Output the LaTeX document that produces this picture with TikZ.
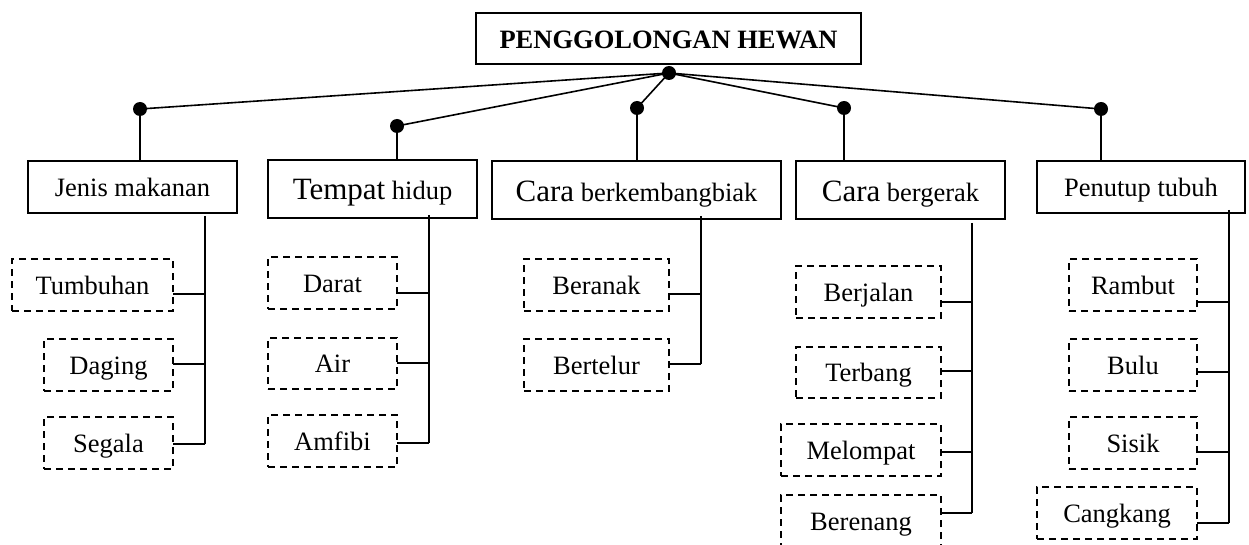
\documentclass[tikz,border=0pt]{standalone}
\usepackage{fontspec}
\setmainfont{Liberation Serif}
\begin{document}
\begin{tikzpicture}[x=1pt,y=-1pt,
  line width=1.6pt,
  base/.style={inner sep=0pt,outer sep=0pt,font=\fontsize{26.5}{30}\selectfont,text depth=0pt},
  mainbox/.style={base,draw,text height=20pt},
  bigbox/.style={base,draw,text height=22pt},
  subbox/.style={base,draw,dash pattern=on 7pt off 5pt,line width=1.4pt,text height=18pt},
  hubdot/.style={circle,fill=black,inner sep=0pt,minimum size=14pt},
  link/.style={line width=1.6pt}]
\useasboundingbox (0,0) rectangle (1249,545);
\newcommand{\bigw}[1]{{\fontsize{31}{34}\selectfont #1}}
% title
\node[mainbox,text height=21pt,minimum width=385pt,minimum height=51pt,font=\fontsize{26.5}{30}\selectfont\bfseries] (title) at (668.5,38.5) {PENGGOLONGAN HEWAN};
\node[hubdot] (hub) at (669,73) {};
% category boxes
\node[mainbox,minimum width=209pt,minimum height=52pt] (jm) at (132.5,187) {Jenis makanan};
\node[bigbox,minimum width=209pt,minimum height=58pt] (th) at (372.5,189) {\bigw{Tempat} hidup};
\node[bigbox,text height=23pt,minimum width=289pt,minimum height=58pt] (cb) at (636.5,190) {\bigw{Cara} berkembangbiak};
\node[bigbox,text height=23pt,minimum width=209pt,minimum height=58pt] (cg) at (900.5,190) {\bigw{Cara} bergerak};
\node[mainbox,minimum width=208pt,minimum height=52pt] (pt) at (1141,187) {Penutup tubuh};
% dots
\node[hubdot] (d1) at (140,109) {};
\node[hubdot] (d2) at (397,126) {};
\node[hubdot] (d3) at (637,108) {};
\node[hubdot] (d4) at (844,108) {};
\node[hubdot] (d5) at (1101,109) {};
\foreach \d in {d1,d2,d3,d4,d5}{\draw[link] (hub.center) -- (\d.center);}
\draw[link] (d1.center) -- (d1.center |- jm.north);
\draw[link] (d2.center) -- (d2.center |- th.north);
\draw[link] (d3.center) -- (d3.center |- cb.north);
\draw[link] (d4.center) -- (d4.center |- cg.north);
\draw[link] (d5.center) -- (d5.center |- pt.north);
% sub boxes
\node[subbox,minimum width=161pt,minimum height=52pt] (tum) at (92.5,285) {Tumbuhan};
\node[subbox,minimum width=129pt,minimum height=52pt] (dag) at (108.5,365) {Daging};
\node[subbox,minimum width=129pt,minimum height=52pt] (seg) at (108.5,443) {Segala};
\node[subbox,minimum width=129pt,minimum height=52pt] (dar) at (332.5,283) {Darat};
\node[subbox,minimum width=129pt,minimum height=51pt] (air) at (332.5,363.5) {Air};
\node[subbox,minimum width=129pt,minimum height=52pt] (amf) at (332.5,441) {Amfibi};
\node[subbox,minimum width=145pt,minimum height=52pt] (ber) at (596.5,285) {Beranak};
\node[subbox,minimum width=145pt,minimum height=52pt] (bet) at (596.5,365) {Bertelur};
\node[subbox,minimum width=145pt,minimum height=52pt] (bej) at (868.5,292) {Berjalan};
\node[subbox,minimum width=145pt,minimum height=51pt] (ter) at (868.5,372.5) {Terbang};
\node[subbox,minimum width=160pt,minimum height=52pt] (mel) at (861,450) {Melompat};
\node[subbox,minimum width=160pt,minimum height=52pt] (ben) at (861,521) {Berenang};
\node[subbox,minimum width=128pt,minimum height=52pt] (ram) at (1133,285) {Rambut};
\node[subbox,minimum width=128pt,minimum height=52pt] (bul) at (1133,365) {Bulu};
\node[subbox,minimum width=128pt,minimum height=52pt] (sis) at (1133,443) {Sisik};
\node[subbox,minimum width=160pt,minimum height=52pt] (cang) at (1117,513) {Cangkang};
% trunk coordinates
\coordinate (a0) at (205,216); \coordinate (a1) at (205,294); \coordinate (a2) at (205,364); \coordinate (a3) at (205,444);
\coordinate (b0) at (429,215); \coordinate (b1) at (429,293); \coordinate (b2) at (429,363); \coordinate (b3) at (429,443);
\coordinate (c0) at (701,216); \coordinate (c1) at (701,294); \coordinate (c2) at (701,364);
\coordinate (e0) at (972,223); \coordinate (e1) at (972,302); \coordinate (e2) at (972,371); \coordinate (e3) at (972,452); \coordinate (e4) at (972,513);
\coordinate (f0) at (1229,210); \coordinate (f1) at (1229,302); \coordinate (f2) at (1229,372); \coordinate (f3) at (1229,452); \coordinate (f4) at (1229,523);
% trunks
\draw[link] (a0) -- (a3); \draw[link] (b0) -- (b3); \draw[link] (c0) -- (c2);
\draw[link] (e0) -- (e4); \draw[link] (f0) -- (f4);
% branches
\draw[link] (a1) -- (a1 -| tum.east); \draw[link] (a2) -- (a2 -| dag.east); \draw[link] (a3) -- (a3 -| seg.east);
\draw[link] (b1) -- (b1 -| dar.east); \draw[link] (b2) -- (b2 -| air.east); \draw[link] (b3) -- (b3 -| amf.east);
\draw[link] (c1) -- (c1 -| ber.east); \draw[link] (c2) -- (c2 -| bet.east);
\draw[link] (e1) -- (e1 -| bej.east); \draw[link] (e2) -- (e2 -| ter.east); \draw[link] (e3) -- (e3 -| mel.east); \draw[link] (e4) -- (e4 -| ben.east);
\draw[link] (f1) -- (f1 -| ram.east); \draw[link] (f2) -- (f2 -| bul.east); \draw[link] (f3) -- (f3 -| sis.east); \draw[link] (f4) -- (f4 -| cang.east);
\end{tikzpicture}
\end{document}
